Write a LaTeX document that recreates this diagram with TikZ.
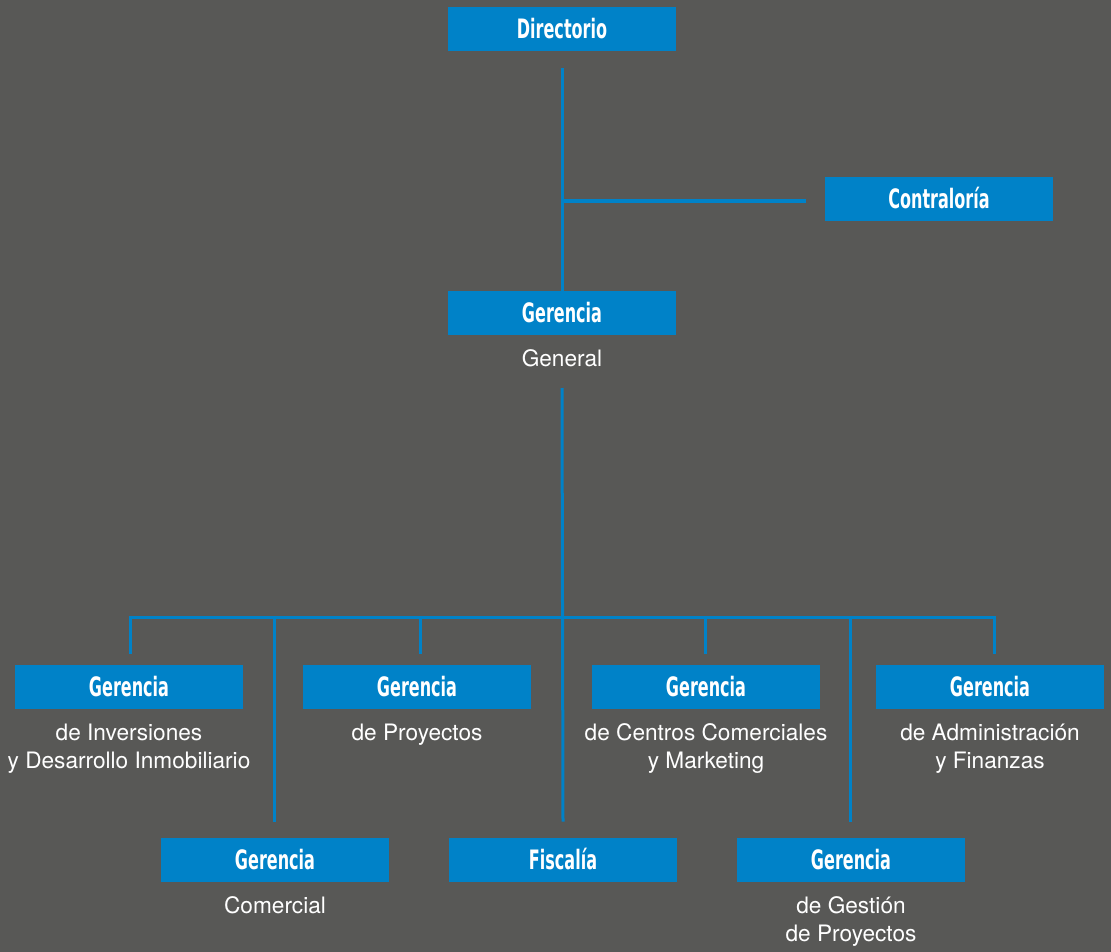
\documentclass[tikz,border=0pt]{standalone}
\usepackage{fontspec}
\setmainfont{TeX Gyre Heros}
\newfontfamily\titlefont[FakeStretch=0.6]{DejaVu Sans}
\usetikzlibrary{positioning}
\definecolor{bgcol}{RGB}{88,88,86}
\definecolor{boxblue}{RGB}{0,130,200}

\begin{document}
\begin{tikzpicture}[x=0.025cm, y=-0.025cm,
  box/.style={fill=boxblue, text=white, minimum width=5.7cm, minimum height=1.1cm,
    inner sep=0pt, text height=13.5pt, text depth=0pt,
    font=\titlefont\bfseries\fontsize{19}{21}\selectfont},
  sub/.style={text=white, align=center, inner sep=0pt,
    font=\fontsize{16.1}{19.8}\selectfont},
  link/.style={draw=boxblue, line width=0.075cm}]
  \fill[bgcol] (0,0) rectangle (1111,952);
  % boxes
  \node[box] (dir) at (562,29) {Directorio};
  \node[box] (contr) at (939,199) {Contraloría};
  \node[box] (gg) at (562,313) {Gerencia};
  \foreach \n/\x in {inv/129,proy/417,ccm/706,adm/990}{
    \node[box] (\n) at (\x,687) {Gerencia};
  }
  \node[box] (com) at (275,860) {Gerencia};
  \node[box] (fisc) at (563,860) {Fiscalía};
  \node[box] (ges) at (851,860) {Gerencia};
  % texts below
  \node[sub, below=0.36cm of gg] (ggsub) {General};
  \node[sub, below=0.36cm of inv] (invsub) {de Inversiones\\y Desarrollo Inmobiliario};
  \node[sub, below=0.36cm of proy] (proysub) {de Proyectos};
  \node[sub, below=0.36cm of ccm] (ccmsub) {de Centros Comerciales\\y Marketing};
  \node[sub, below=0.36cm of adm] (admsub) {de Administración\\y Finanzas};
  \node[sub, below=0.36cm of com] (comsub) {Comercial};
  \node[sub, below=0.36cm of ges] (gessub) {de Gestión\\de Proyectos};
  % lines
  \coordinate (dirout) at (562,68);
  \coordinate (contrin) at (806,201);
  \coordinate (ggout) at (562,388);
  \coordinate (bus) at (562,617);
  \draw[link] (dirout) -- (gg.north);
  \draw[link] (dirout |- contrin) -- (contrin);
  \draw[link] (ggout) -- ([yshift=0.4cm]fisc.north);
  \draw[link] ([xshift=0.025cm,yshift=0.275cm]inv.north) |- (bus)
    -| ([xshift=0.1cm,yshift=0.275cm]adm.north);
  \foreach \n/\s/\d in {proy/0.075cm/0.275cm,ccm/-0.025cm/0.275cm,com/-0.025cm/0.4cm,ges/-0.025cm/0.4cm}{
    \draw[link] ([xshift=\s]bus -| \n.north) -- ([xshift=\s,yshift=\d]\n.north);
  }
\end{tikzpicture}
\end{document}
